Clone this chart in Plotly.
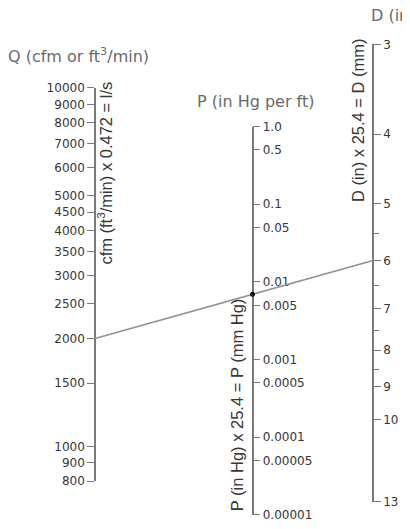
import numpy as np
import plotly.graph_objects as go

# ---------------- data ----------------
q_ticks = [10000, 9000, 8000, 7000, 6000, 5000, 4500, 4000, 3500, 3000, 2500, 2000, 1500, 1000, 900, 800]
q_labels = ["10000", "9000", "8000", "7000", "6000", "5000", "4500", "4000", "3500", "3000",
            "2500", "2000", "1500", "1000", "900", "800"]
p_ticks = [1.0, 0.5, 0.1, 0.05, 0.01, 0.005, 0.001, 0.0005, 0.0001, 0.00005, 0.00001]
p_labels = ["1.0", "0.5", "0.1", "0.05", "0.01", "0.005", "0.001", "0.0005", "0.0001", "0.00005", "0.00001"]
d_ticks = [3, 4, 5, 6, 7, 8, 9, 10, 13]
d_labels = ["3", "4", "5", "6", "7", "8", "9", "10", "13"]
d_minor = [5.5, 6.5, 7.5, 8.5]
example_q = 2000   # cfm
example_d = 6      # in

# ---------------- layout geometry ----------------
# page body has an 8px margin, so the figure is placed at (8, 8) in the window
OFF = 8
W, H = 410 - OFF, 529 - OFF


def px_x(px):
    return (px - OFF) / W


def px_y(py):
    return 1 - (py - OFF) / H


Q_X, P_X, D_X = px_x(95), px_x(252.5), px_x(373)
q_dom = [px_y(487), px_y(83)]
p_dom = [px_y(521.7), px_y(122.7)]
d_dom = [px_y(508), px_y(38.3)]
q_rng = [np.log10(min(q_ticks)), np.log10(max(q_ticks))]
p_rng = [np.log10(min(p_ticks)), np.log10(max(p_ticks))]
d_rng = [np.log10(max(d_ticks)), np.log10(min(d_ticks))]   # reversed scale: 3 at top


def to_paper(v, dom, rng):
    return dom[0] + (np.log10(v) - rng[0]) / (rng[1] - rng[0]) * (dom[1] - dom[0])


AX = "#7a7a7a"
TK = "#363636"
TITLE = "#6a6a6a"
ROT = "#383838"
LINE = "#8b9594"

fig = go.Figure()

# invisible traces to create the three scales
for ya, v in (("y", q_ticks[0]), ("y2", p_ticks[0]), ("y3", d_ticks[0])):
    fig.add_trace(go.Scatter(x=[0.5], y=[v], yaxis=ya, mode="markers",
                             marker=dict(opacity=0), hoverinfo="skip", showlegend=False))

# example line Q -> D, crossing P
yq = to_paper(example_q, q_dom, q_rng)
yd = to_paper(example_d, d_dom, d_rng)
yp = yq + (yd - yq) * (P_X - Q_X) / (D_X - Q_X)
fig.add_trace(go.Scatter(x=[Q_X, D_X], y=[yq, yd], yaxis="y4", mode="lines",
                         line=dict(color=LINE, width=1.6), hoverinfo="skip",
                         showlegend=False, cliponaxis=False))
fig.add_trace(go.Scatter(x=[P_X], y=[yp], yaxis="y4", mode="markers",
                         marker=dict(color="#111111", size=5), hoverinfo="skip",
                         showlegend=False, cliponaxis=False))


def axis_style(side, dom, rng, pos, tickvals, ticktext):
    return dict(type="log", domain=dom, range=rng, anchor="free", position=pos, side=side,
                showline=True, linecolor=AX, linewidth=1.6,
                ticks="outside", ticklen=7, tickwidth=1.4, tickcolor=AX,
                tickmode="array", tickvals=tickvals, ticktext=ticktext,
                tickfont=dict(family="DejaVu Sans", size=12, color=TK),
                showgrid=False, zeroline=False, fixedrange=True)


ya1 = axis_style("left", q_dom, q_rng, Q_X, q_ticks, q_labels)
ya2 = axis_style("right", p_dom, p_rng, P_X, p_ticks, p_labels)
ya3 = axis_style("right", d_dom, d_rng, D_X, d_ticks, d_labels)
ya3["minor"] = dict(tickmode="array", tickvals=d_minor, ticks="outside", ticklen=5,
                    tickwidth=1.4, tickcolor=AX, showgrid=False)

annotations = [
    dict(text="Q (cfm or ft<sup>3</sup>/min)", x=px_x(6), y=px_y(50), xanchor="left", yanchor="middle",
         font=dict(family="DejaVu Sans", size=16, color=TITLE)),
    dict(text="P (in Hg per ft)", x=px_x(255), y=px_y(97), xanchor="center", yanchor="middle",
         font=dict(family="DejaVu Sans", size=16, color=TITLE)),
    dict(text="D (in)", x=px_x(369), y=px_y(9), xanchor="left", yanchor="middle",
         font=dict(family="DejaVu Sans", size=16, color=TITLE)),
    dict(text="cfm (ft<sup>3</sup>/min) x 0.472 = l/s", x=px_x(105), y=px_y(171), textangle=-90,
         xanchor="center", yanchor="middle",
         font=dict(family="Liberation Sans", size=16.5, color=ROT)),
    dict(text="P (in Hg) x 25.4 = P (mm Hg)", x=px_x(237), y=px_y(409), textangle=-90,
         xanchor="center", yanchor="middle",
         font=dict(family="Liberation Sans", size=16.5, color=ROT)),
    dict(text="D (in) x 25.4 = D (mm)", x=px_x(358), y=px_y(116), textangle=-90,
         xanchor="center", yanchor="middle",
         font=dict(family="Liberation Sans", size=16.5, color=ROT)),
]
for a in annotations:
    a.update(xref="paper", yref="paper", showarrow=False)

fig.update_layout(
    width=W, height=H, autosize=False,
    margin=dict(l=0, r=0, t=0, b=0),
    paper_bgcolor="white", plot_bgcolor="rgba(0,0,0,0)",
    xaxis=dict(domain=[0, 1], range=[0, 1], visible=False, fixedrange=True),
    yaxis=ya1, yaxis2=ya2, yaxis3=ya3,
    yaxis4=dict(domain=[0, 1], range=[0, 1], visible=False, anchor="x", fixedrange=True),
    annotations=annotations,
    showlegend=False,
)

fig.write_html("out.html")
